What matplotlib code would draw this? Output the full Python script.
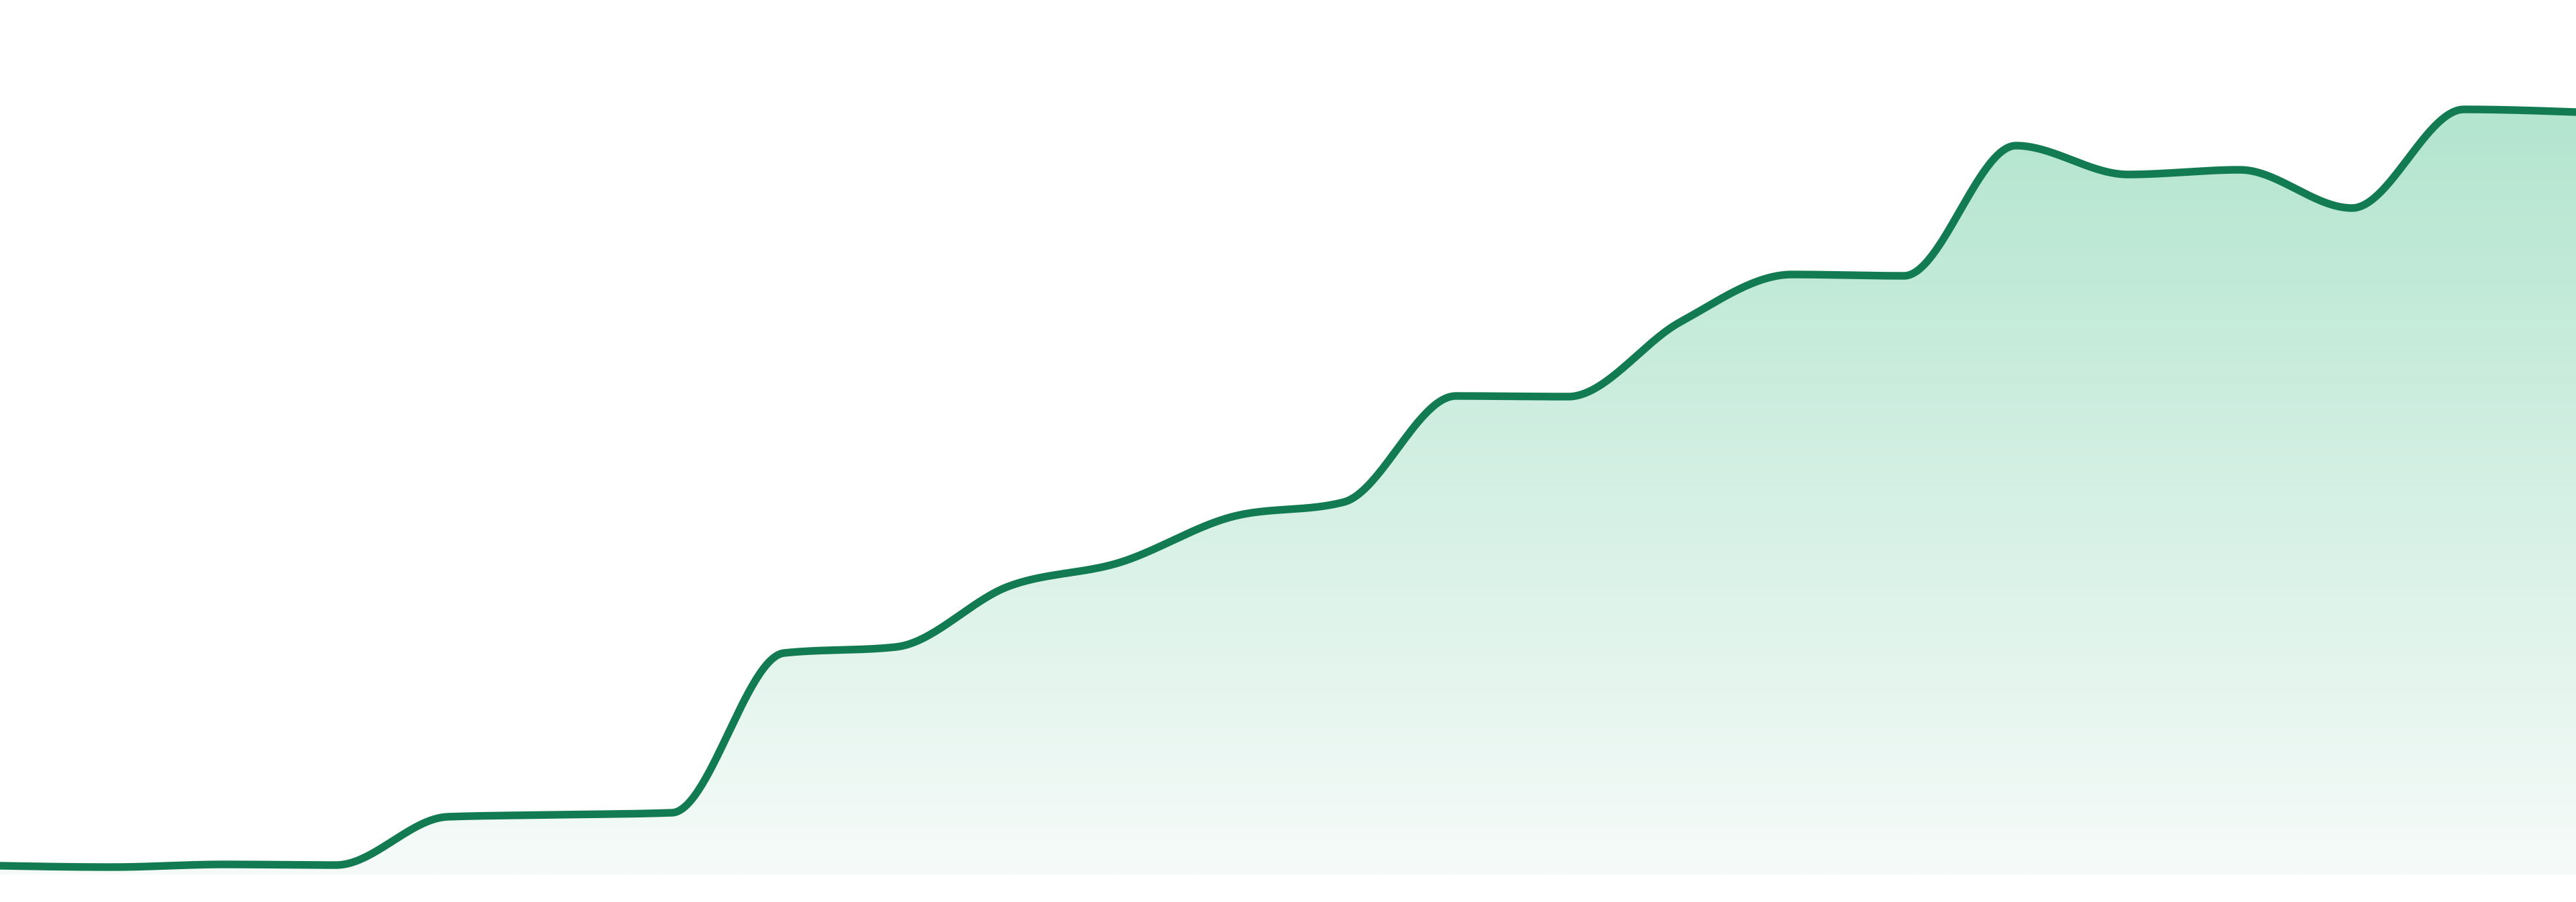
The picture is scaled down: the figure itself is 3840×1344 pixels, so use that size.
import numpy as np
import matplotlib
matplotlib.use("Agg")
import matplotlib.pyplot as plt
from matplotlib.colors import to_rgb

steps = np.arange(24)
values = [1.3, 1.1, 1.5, 1.4, 8.6, 8.9, 9.2, 33.0, 33.9, 42.9, 46.5, 53.3,
          55.5, 71.3, 71.2, 82.3, 89.4, 89.2, 108.6, 104.3, 105.0, 99.3,
          114.0, 113.6]

LINE = "#127b52"
FILL_TOP = "#b3e5cf"
FILL_BOTTOM = "#f6fbf9"
YMAX = 130.3


def monotone_slopes(x, y):
    """Tangents as in d3.curveMonotoneX (Fritsch-Carlson style)."""
    x = np.asarray(x, float)
    y = np.asarray(y, float)
    n = len(x)
    t = np.zeros(n)
    for i in range(1, n - 1):
        h0, h1 = x[i] - x[i - 1], x[i + 1] - x[i]
        s0, s1 = (y[i] - y[i - 1]) / h0, (y[i + 1] - y[i]) / h1
        p = (s0 * h1 + s1 * h0) / (h0 + h1)
        t[i] = (np.sign(s0) + np.sign(s1)) * min(abs(s0), abs(s1), 0.5 * abs(p))
    h = x[1] - x[0]
    t[0] = (3 * (y[1] - y[0]) / h - t[1]) / 2
    h = x[-1] - x[-2]
    t[-1] = (3 * (y[-1] - y[-2]) / h - t[-2]) / 2
    return t


def smooth(x, y, per_seg=60):
    x = np.asarray(x, float)
    y = np.asarray(y, float)
    t = monotone_slopes(x, y)
    xs, ys = [], []
    for i in range(len(x) - 1):
        h = x[i + 1] - x[i]
        u = np.linspace(0, 1, per_seg, endpoint=(i == len(x) - 2))
        h00 = 2 * u**3 - 3 * u**2 + 1
        h10 = u**3 - 2 * u**2 + u
        h01 = -2 * u**3 + 3 * u**2
        h11 = u**3 - u**2
        xs.append(x[i] + u * h)
        ys.append(h00 * y[i] + h10 * h * t[i] + h01 * y[i + 1] + h11 * h * t[i + 1])
    return np.concatenate(xs), np.concatenate(ys)


fig = plt.figure(figsize=(38.4, 13.44), dpi=100)
ax = fig.add_axes([0, 41 / 1344, 1, 1303 / 1344])
ax.set_xlim(steps[0], steps[-1])
ax.set_ylim(0, YMAX)
ax.axis("off")

sx, sy = smooth(steps, values)

# vertical gradient fill under the curve
top = max(values)
n = 256
frac = np.linspace(1, 0, n)[:, None]
c_top, c_bot = np.array(to_rgb(FILL_TOP)), np.array(to_rgb(FILL_BOTTOM))
grad = c_bot + (c_top - c_bot) * frac[..., None]
grad = np.repeat(grad, 2, axis=1)
img = ax.imshow(grad, extent=[steps[0], steps[-1], 0, top], aspect="auto",
                origin="upper", zorder=1, interpolation="bilinear")
img_top = ax.imshow(np.tile(c_top, (1, 2, 1)),
                    extent=[steps[0], steps[-1], top, YMAX], aspect="auto",
                    zorder=1)
poly = ax.fill_between(sx, 0, sy, facecolor="none", edgecolor="none")
clip = poly.get_paths()[0]
img.set_clip_path(clip, transform=ax.transData)
img_top.set_clip_path(clip, transform=ax.transData)

ax.plot(sx, sy, color=LINE, lw=8.2, solid_capstyle="round",
        solid_joinstyle="round", zorder=3)

fig.savefig("out.png", dpi=100, facecolor="white")
